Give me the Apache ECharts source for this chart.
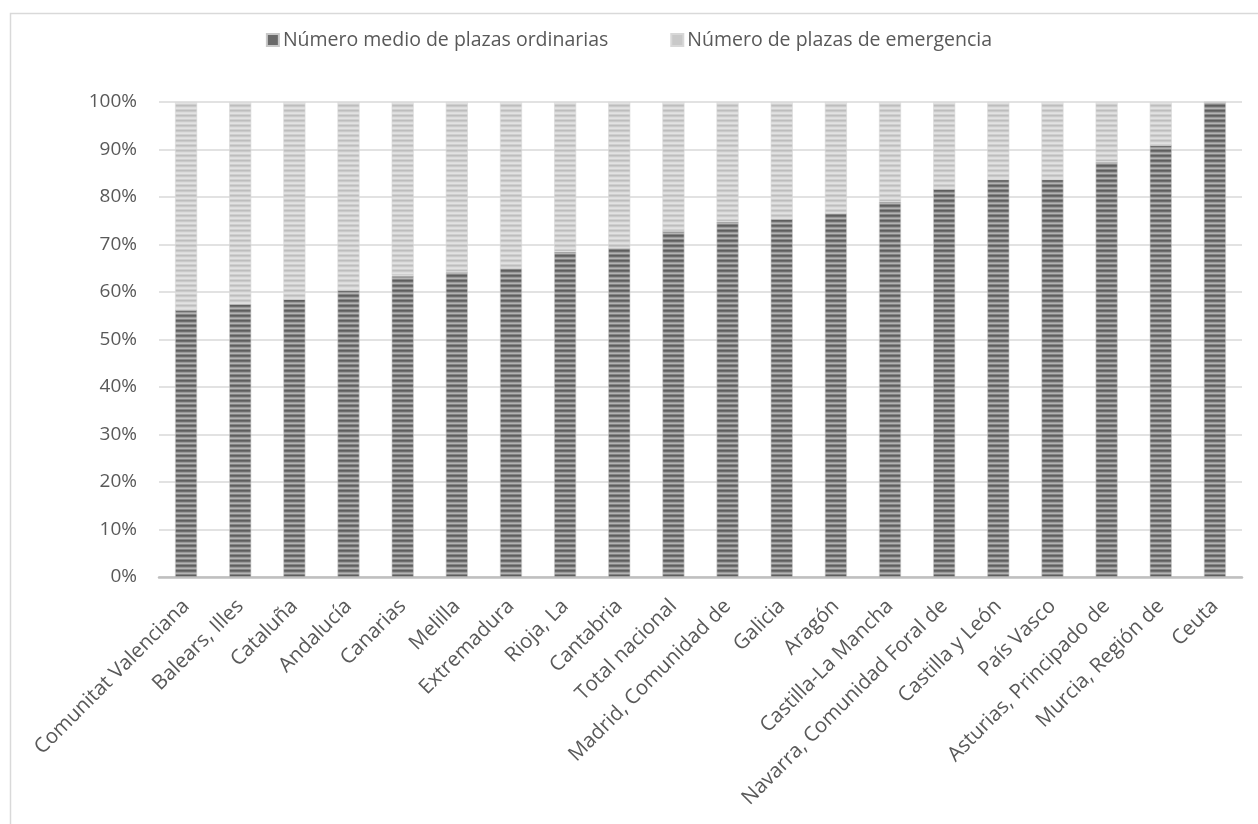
<!DOCTYPE html>
<html>
<head>
<meta charset="utf-8">
<script src="https://cdn.jsdelivr.net/npm/echarts@6/dist/echarts.min.js"></script>
<style>
html,body{margin:0;padding:0;background:#fff;}
#c{width:1258px;height:824px;}
</style>
</head>
<body>
<div id="c"></div>
<script>
const categories = ["Comunitat Valenciana","Balears, Illes","Cataluña","Andalucía","Canarias","Melilla","Extremadura","Rioja, La","Cantabria","Total nacional","Madrid, Comunidad de","Galicia","Aragón","Castilla-La Mancha","Navarra, Comunidad Foral de","Castilla y León","País Vasco","Asturias, Principado de","Murcia, Región de","Ceuta"];
const seriesNames = ["Número medio de plazas ordinarias","Número de plazas de emergencia"];
const ordinarias = [56.2, 57.5, 58.5, 60.4, 63.4, 64.2, 65.0, 68.5, 69.3, 72.8, 74.8, 75.4, 76.6, 79.0, 81.7, 83.7, 83.7, 87.4, 90.9, 100];
const emergencia = [43.8, 42.5, 41.5, 39.6, 36.6, 35.8, 35.0, 31.5, 30.7, 27.2, 25.2, 24.6, 23.4, 21.0, 18.3, 16.3, 16.3, 12.6, 9.1, 0];
const yTicks = [0,10,20,30,40,50,60,70,80,90,100];

function stripes(rows){
  const cv = document.createElement('canvas');
  cv.width = 4; cv.height = rows.length;
  const ctx = cv.getContext('2d');
  rows.forEach((c,i)=>{ctx.fillStyle=c;ctx.fillRect(0,i,4,1);});
  return {image: cv, repeat: 'repeat'};
}
const darkPat = stripes(['#5e5e5e','#6e6e6e','#9a9a9a','#b4b4b4','#858585']);
const lightPat = stripes(['#bdbdbd','#cacaca','#dcdcdc','#e2e2e2','#cfcfcf']);

const chart = echarts.init(document.getElementById('c'), null, {renderer:'canvas'});
const FONT = '"Open Sans", "Noto Sans", sans-serif';
chart.setOption({
  animation:false,
  backgroundColor:'#fff',
  textStyle:{fontFamily:FONT},
  graphic:[{type:'rect', left:8, top:11, shape:{width:1300, height:900}, style:{fill:'none', stroke:'#d9d9d9', lineWidth:1.5}, silent:true, z:-1}],
  legend:{
    top:25, left:'center', itemWidth:12, itemHeight:12, itemGap:62,
    icon:'rect',
    textStyle:{fontFamily:FONT, fontSize:19.5, color:'#595959', padding:[0,0,0,-1]},
    data:[{name:seriesNames[0], itemStyle:{color:'#6a6a6a'}},{name:seriesNames[1], itemStyle:{color:'#c9c9c9'}}]
  },
  grid:{left:159, right:16, top:102, bottom:247, containLabel:false},
  xAxis:{
    type:'category', data:categories,
    axisLine:{lineStyle:{color:'#bfbfbf', width:2.5}},
    axisTick:{show:false},
    axisLabel:{rotate:45, interval:0, fontFamily:FONT, fontSize:20.5, color:'#595959', margin:26}
  },
  yAxis:{
    type:'value', min:0, max:100, interval:10,
    axisLine:{show:false}, axisTick:{show:false},
    splitLine:{lineStyle:{color:'#d9d9d9', width:1.5}},
    axisLabel:{fontFamily:FONT, fontSize:19, color:'#595959', margin:22, formatter:v=>v+'%'}
  },
  series:[
    {name:seriesNames[0], type:'bar', stack:'t', data:ordinarias, barWidth:22,
     itemStyle:{color:darkPat, borderColor:'#c8c8c8', borderWidth:0.6}},
    {name:seriesNames[1], type:'bar', stack:'t', data:emergencia, barWidth:22,
     itemStyle:{color:lightPat, borderColor:'#d8d8d8', borderWidth:0.6}}
  ]
});
</script>
</body>
</html>
